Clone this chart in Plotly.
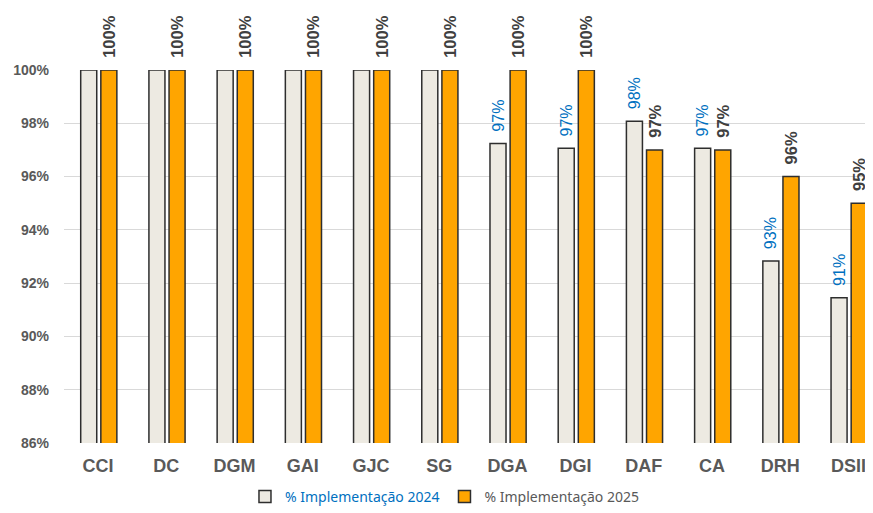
import plotly.graph_objects as go

categories = ["CCI", "DC", "DGM", "GAI", "GJC", "SG", "DGA", "DGI", "DAF", "CA", "DRH", "DSII"]
impl_2024 = [100, 100, 100, 100, 100, 100, 97.24, 97.06, 98.08, 97.06, 92.83, 91.45]
impl_2025 = [100, 100, 100, 100, 100, 100, 100, 100, 97, 97, 96, 95]
y_ticks = [86, 88, 90, 92, 94, 96, 98, 100]

pad = "\u00a0\u00a0"
text_2024 = ["" if v >= 100 else pad + f"{round(v):.0f}%" for v in impl_2024]
text_2025 = [pad + f"{round(v):.0f}%" for v in impl_2025]

x_idx = list(range(len(categories)))

fig = go.Figure()
fig.add_trace(go.Bar(
    x=x_idx, y=impl_2024,
    name='<span style="color:#0070C0">% Implementação 2024</span>',
    marker=dict(color="#EDEAE2", line=dict(color="#2e2e2e", width=1.5)),
    width=0.235, offset=-0.255,
    text=text_2024, textposition="outside", textangle=-90,
    textfont=dict(family="Liberation Sans, Arial", size=16, color="#0070C0"),
    cliponaxis=False, constraintext="none",
))
fig.add_trace(go.Bar(
    x=x_idx, y=impl_2025,
    name='<span style="color:#595959">% Implementação 2025</span>',
    marker=dict(color="#FFA500", line=dict(color="#2e2e2e", width=1.5)),
    width=0.235, offset=0.04,
    text=text_2025, textposition="outside", textangle=-90,
    textfont=dict(family="Liberation Sans, Arial", size=16.5, color="#404040", weight="bold"),
    cliponaxis=False, constraintext="none",
))

fig.update_layout(
    width=865, height=505,
    margin=dict(l=56, r=0, t=62, b=70, autoexpand=False),
    paper_bgcolor="white", plot_bgcolor="white",
    barmode="overlay",
    showlegend=True,
    legend=dict(orientation="h", xref="container", yref="container",
                x=0.5046, xanchor="center", y=0.032, yanchor="middle",
                font=dict(family="Noto Sans, Open Sans", size=14, color="#595959"),
                itemwidth=30, traceorder="normal"),
    xaxis=dict(
        tickmode="array", tickvals=x_idx, ticktext=categories,
        range=[-0.5, 11.36],
        tickfont=dict(family="Liberation Sans, Arial", size=18, color="#595959", weight="bold"),
        showgrid=False, zeroline=False, showline=False, ticks="",
        ticklabelstandoff=10,
    ),
    yaxis=dict(
        range=[86, 100], tickvals=y_ticks,
        ticktext=[f"{v}%" for v in y_ticks],
        tickfont=dict(family="Liberation Sans, Arial", size=14, color="#595959", weight="bold"),
        showgrid=True, gridcolor="#D9D9D9", gridwidth=1.3,
        zeroline=False, showline=False, ticks="", ticklabelstandoff=14,
    ),
)
fig.write_html("out.html")
